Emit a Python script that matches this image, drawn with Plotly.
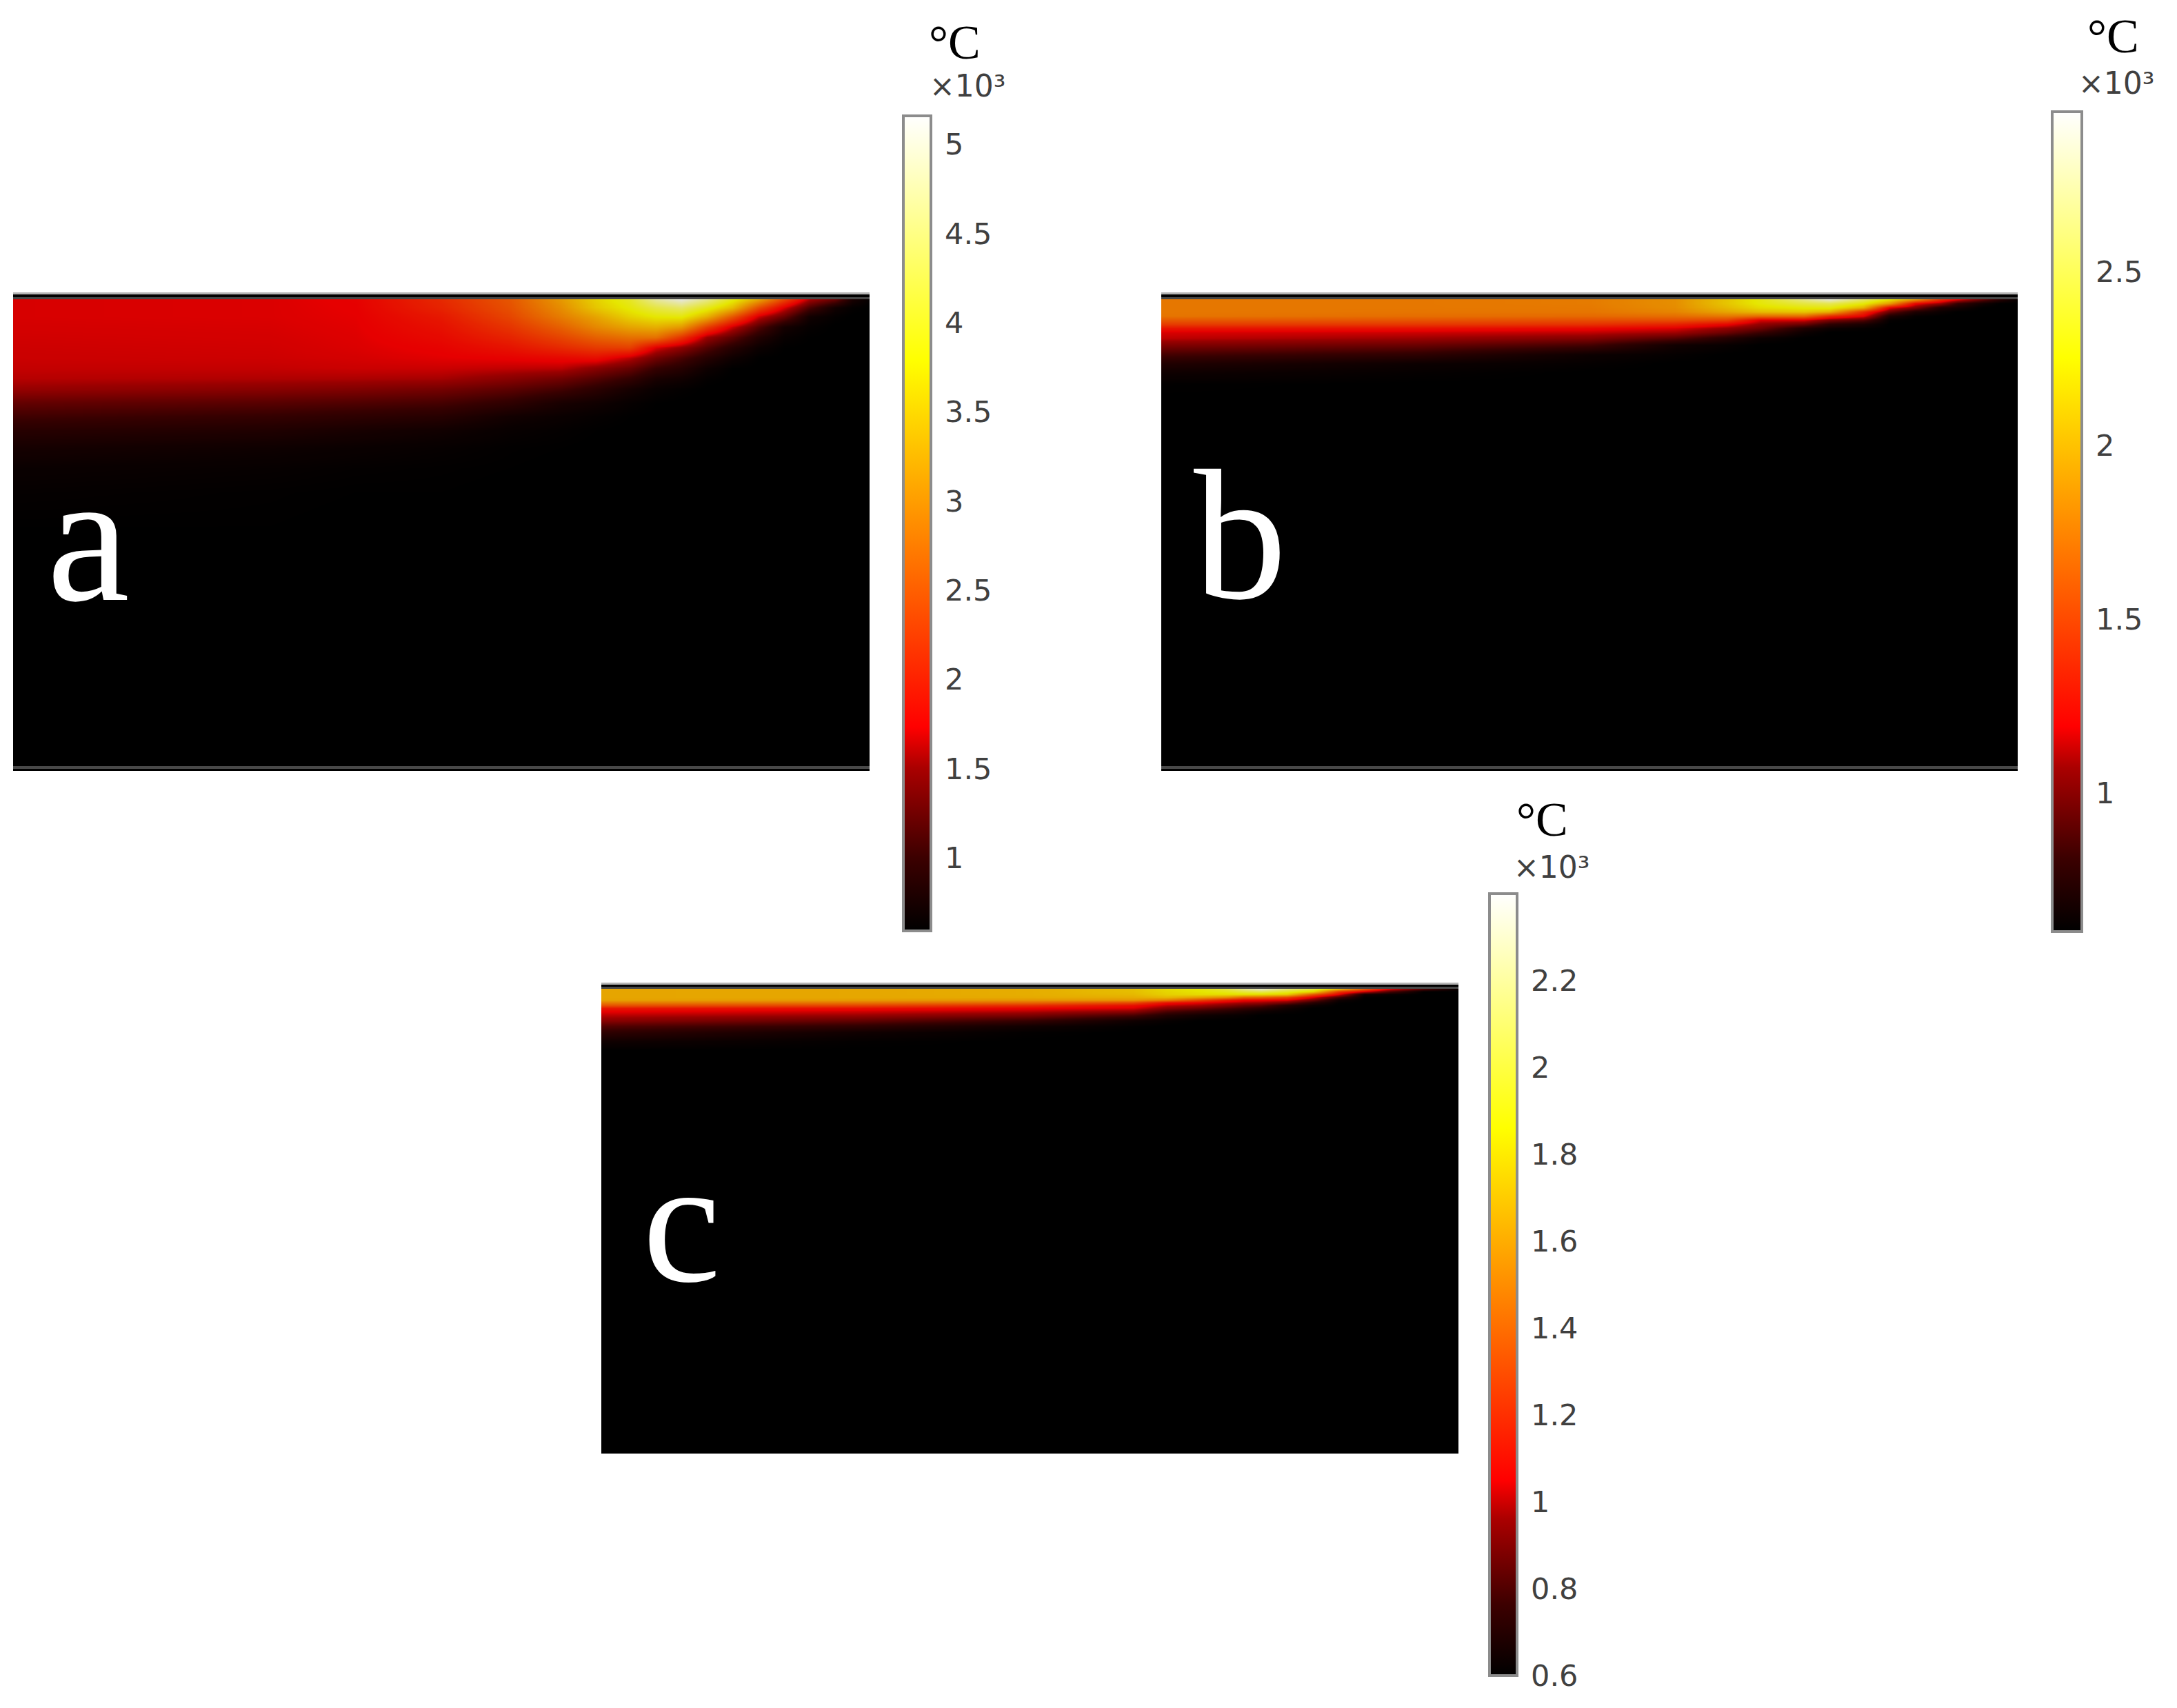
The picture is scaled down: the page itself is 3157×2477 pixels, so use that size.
import plotly.graph_objects as go

W, H = 3157, 2477

# ---------- colour scale ----------
scale = [[0, "rgb(0,0,0)"], [0.09, "rgb(60,0,0)"], [0.2, "rgb(170,0,0)"], [0.25, "rgb(255,0,0)"],
         [0.7, "rgb(255,255,0)"], [1, "rgb(255,255,255)"]]

# ---------- panel a (temperature x10^3 degC, one list per column, top to bottom) ----------
a_x = [0, .3, .4, .5, .58, .64, .68, .72, .75, .78, .81, .84, .87, .9, .93, .96, .98, 1]
a_depth = [0, 12, 25, 40, 55, 70, 85, 100, 115, 130, 150, 170, 190, 215, 245, 280, 330, 684]
a_floor = 0.59
a_profiles = [
    [1.69, 1.69, 1.69, 1.68, 1.67, 1.66, 1.65, 1.63, 1.59, 1.49, 1.23, 1.05, .89, .76, .67, .63, .6, .59],
    [1.7, 1.7, 1.7, 1.69, 1.68, 1.67, 1.66, 1.63, 1.57, 1.42, 1.17, .98, .83, .7, .64, .61, .6, .59],
    [1.75, 1.74, 1.73, 1.72, 1.71, 1.7, 1.68, 1.65, 1.56, 1.38, 1.13, .93, .77, .67, .62, .6, .59, .59],
    [2.1, 2.05, 1.95, 1.88, 1.82, 1.76, 1.72, 1.65, 1.54, 1.32, 1.08, .88, .72, .64, .61, .6],
    [2.5, 2.45, 2.35, 2.2, 2.05, 1.9, 1.75, 1.62, 1.42, 1.2, .95, .73, .65, .61, .6],
    [3.1, 3.0, 2.85, 2.6, 2.35, 2.1, 1.8, 1.6, 1.3, 1.07, .78, .67, .62, .6],
    [3.6, 3.5, 3.2, 2.95, 2.6, 2.25, 1.85, 1.42, 1.15, .92, .72, .63, .6],
    [4.0, 3.85, 3.6, 3.2, 2.75, 2.3, 1.6, 1.25, .98, .76, .64, .6],
    [4.7, 4.2, 3.8, 3.3, 2.75, 1.7, 1.3, 1.0, .78, .66, .6],
    [5.1, 4.4, 3.85, 3.1, 2.2, 1.45, 1.1, .88, .72, .62],
    [4.6, 3.95, 3.3, 2.3, 1.5, 1.15, .88, .7, .62],
    [3.9, 3.4, 2.5, 1.65, 1.2, .88, .7, .6],
    [3.2, 2.4, 1.65, 1.15, .85, .68, .6],
    [2.35, 1.7, 1.25, .75, .65, .6],
    [1.55, 1.1, .72, .63, .6],
    [1.25, .72, .62],
    [.78, .62],
    [.62],
]
a_ticks = [1, 1.5, 2, 2.5, 3, 3.5, 4, 4.5, 5]
a_labels = ["1", "1.5", "2", "2.5", "3", "3.5", "4", "4.5", "5"]
a_range = [0.59, 5.16]

# ---------- panel b ----------
b_x = [0, .3, .5, .6, .66, .7, .75, .78, .82, .85, .88, .91, .93, .96, .98, 1]
b_depth = [0, 6, 12, 18, 24, 30, 36, 42, 48, 56, 66, 80, 93, 106, 123, 150, 684]
b_floor = 0.6
b_profiles = [
    [1.74, 1.74, 1.74, 1.74, 1.73, 1.6, 1.47, 1.28, 1.17, 1.13, 1.01, .85, .73, .66, .61],
    [1.74, 1.74, 1.74, 1.73, 1.7, 1.58, 1.45, 1.26, 1.15, 1.08, .95, .78, .65, .62],
    [1.76, 1.76, 1.75, 1.73, 1.68, 1.55, 1.42, 1.22, 1.13, 1.02, .85, .65, .62],
    [1.85, 1.85, 1.84, 1.8, 1.7, 1.55, 1.35, 1.17, 1.08, .9, .67, .62],
    [2.1, 2.1, 2.05, 1.95, 1.75, 1.5, 1.22, 1.05, .95, .75, .63],
    [2.3, 2.28, 2.2, 2.05, 1.7, 1.17, 1.05, .95, .82, .65],
    [2.65, 2.45, 2.28, 2.1, 1.7, 1.17, .95, .72, .65],
    [2.9, 2.5, 2.3, 2.0, 1.4, 1.0, .78, .65],
    [2.55, 2.28, 2.0, 1.4, 1.2, .9, .7, .62],
    [2.25, 1.9, 1.2, .95, .72, .62],
    [1.9, 1.22, 1.0, .72, .62],
    [1.4, 1.05, .72, .64],
    [1.2, .8, .68],
    [.93, .66],
    [.75],
    [.62],
]
b_ticks = [1, 1.5, 2, 2.5]
b_labels = ["1", "1.5", "2", "2.5"]
b_range = [0.6, 2.96]

# ---------- panel c ----------
c_x = [0, .3, .5, .62, .66, .7, .73, .75, .77, .8, .83, .86, .89, .92, .96, .98, 1]
c_depth = [0, 4, 8, 12, 16, 20, 24, 28, 32, 38, 46, 54, 63, 76, 90, 200, 674]
c_floor = 0.6
c_profiles = [
    [1.63, 1.63, 1.63, 1.63, 1.62, 1.48, 1.33, 1.13, 1.06, 1.0, .93, .82, .74, .65],
    [1.64, 1.64, 1.64, 1.64, 1.6, 1.45, 1.28, 1.1, 1.03, .96, .85, .74, .65, .61],
    [1.66, 1.66, 1.66, 1.65, 1.58, 1.4, 1.2, 1.06, 1.0, .9, .76, .65, .61],
    [1.72, 1.72, 1.7, 1.66, 1.58, 1.3, 1.1, 1.03, .95, .8, .65, .61],
    [1.82, 1.8, 1.78, 1.7, 1.5, 1.1, 1.0, .92, .82, .7, .62],
    [1.88, 1.86, 1.82, 1.62, 1.3, 1.05, .96, .86, .76, .65],
    [2.0, 1.92, 1.82, 1.55, 1.15, 1.0, .9, .8, .72, .63],
    [2.18, 2.0, 1.82, 1.42, 1.08, .97, .85, .76, .68, .62],
    [2.33, 2.05, 1.8, 1.4, 1.07, .95, .82, .72, .65],
    [2.12, 1.95, 1.75, 1.3, 1.05, .88, .7, .65, .62],
    [2.0, 1.8, 1.35, 1.05, .88, .72, .63],
    [1.72, 1.25, 1.05, .8, .65, .61],
    [1.37, 1.03, .65, .61],
    [1.05, .8, .62],
    [.82],
    [.72],
    [.62],
]
c_ticks = [.6, .8, 1, 1.2, 1.4, 1.6, 1.8, 2, 2.2]
c_labels = ["0.6", "0.8", "1", "1.2", "1.4", "1.6", "1.8", "2", "2.2"]
c_range = [0.6, 2.4]


def px(x):
    return x / W


def py(y):
    return 1 - y / H


def grid(profiles, depth, floor):
    cols = [p + [floor] * (len(depth) - len(p)) for p in profiles]
    return [list(r) for r in zip(*cols)]


panels = [
    dict(name="a", x=a_x, d=a_depth, z=grid(a_profiles, a_depth, a_floor), rng=a_range, ticks=a_ticks, labels=a_labels,
         box=(19, 434, 1261, 1118), bar=(1310, 168, 1350, 1350), unit=(1345, 62), exp=(1346, 125),
         letter=(66, 778), letter_size=270,
         text="a", lines=[(424, 427, "#b4b4b4"), (427, 431, "#000000"), (431, 434, "#484848"), (1111, 1115, "#484848")]),
    dict(name="b", x=b_x, d=b_depth, z=grid(b_profiles, b_depth, b_floor), rng=b_range, ticks=b_ticks, labels=b_labels,
         box=(1684, 434, 2926, 1118), bar=(2976, 162, 3019, 1351), unit=(3025, 52), exp=(3012, 121),
         letter=(1729, 775), letter_size=270,
         text="b", lines=[(424, 427, "#b4b4b4"), (427, 431, "#000000"), (431, 434, "#484848"), (1111, 1115, "#484848")]),
    dict(name="c", x=c_x, d=c_depth, z=grid(c_profiles, c_depth, c_floor), rng=c_range, ticks=c_ticks, labels=c_labels,
         box=(872, 1434, 2115, 2108), bar=(2160, 1296, 2200, 2430), unit=(2197, 1188), exp=(2193, 1257),
         letter=(930, 1772), letter_size=255,
         text="c", lines=[(1425, 1428, "#b4b4b4"), (1428, 1431, "#000000"), (1431, 1434, "#484848")]),
]

fig = go.Figure()
annotations, shapes = [], []
layout_axes = {}

for i, p in enumerate(panels, start=1):
    x0, y0, x1, y1 = p["box"]
    bx0, by0, bx1, by1 = p["bar"]
    suffix = "" if i == 1 else str(i)
    fig.add_trace(go.Heatmap(
        x=p["x"], y=p["d"], z=p["z"], xaxis=f"x{suffix}", yaxis=f"y{suffix}",
        colorscale=scale, zmin=p["rng"][0], zmax=p["rng"][1], zsmooth="best", opacity=0.9,
        hoverinfo="skip", name=p["name"],
        colorbar=dict(
            x=px(bx0), xref="paper", xanchor="left", xpad=0,
            y=py(by1), yanchor="bottom", ypad=0, lenmode="fraction", len=(by1 - by0) / H,
            thickness=bx1 - bx0, outlinecolor="#8c8c8c", outlinewidth=4,
            ticks="outside", ticklen=10, tickwidth=2, tickcolor="rgba(0,0,0,0)",
            tickmode="array", tickvals=p["ticks"], ticktext=p["labels"],
            tickfont=dict(family="DejaVu Sans", size=43, color="#404040"),
        ),
    ))
    layout_axes[f"xaxis{suffix}"] = dict(domain=[px(x0), px(x1)], range=[0, 1], visible=False,
                                         anchor=f"y{suffix}", fixedrange=True)
    layout_axes[f"yaxis{suffix}"] = dict(domain=[py(y1), py(y0)], range=[y1 - y0, 0], visible=False,
                                         anchor=f"x{suffix}", fixedrange=True)
    for top, bottom, colour in p["lines"]:
        shapes.append(dict(type="rect", xref="paper", yref="paper", x0=px(x0), x1=px(x1), y0=py(bottom), y1=py(top),
                           fillcolor=colour, line_width=0, layer="above"))
    # short ticks on both inner edges of the colour bar, from the same tick values
    for t in p["ticks"]:
        yt = by1 - (t - p["rng"][0]) / (p["rng"][1] - p["rng"][0]) * (by1 - by0)
        for a, b in ((bx0, bx0 + 10), (bx1 - 10, bx1)):
            shapes.append(dict(type="line", xref="paper", yref="paper", x0=px(a), x1=px(b), y0=py(yt), y1=py(yt),
                               line=dict(color="#333333", width=2), layer="above"))
    annotations += [
        dict(text="°C", x=px(p["unit"][0]), y=py(p["unit"][1]), xref="paper", yref="paper", xanchor="left",
             yanchor="middle", showarrow=False, font=dict(family="Liberation Serif", size=70, color="#000000")),
        dict(text="×10³", x=px(p["exp"][0]), y=py(p["exp"][1]), xref="paper", yref="paper", xanchor="left",
             yanchor="middle", showarrow=False, font=dict(family="DejaVu Sans", size=44, color="#404040")),
        dict(text=p["text"], x=px(p["letter"][0]), y=py(p["letter"][1]), xref="paper", yref="paper", xanchor="left",
             yanchor="middle", showarrow=False,
             font=dict(family="Times New Roman, Liberation Serif, serif", size=p["letter_size"], color="#ffffff")),
    ]

fig.update_layout(width=W, height=H, margin=dict(l=0, r=0, t=0, b=0), paper_bgcolor="white", plot_bgcolor="black",
                  showlegend=False, shapes=shapes, annotations=annotations, **layout_axes)
fig.write_html("out.html", config=dict(displayModeBar=False),
               post_script="document.body.style.margin='0';document.documentElement.style.overflow='hidden';")
